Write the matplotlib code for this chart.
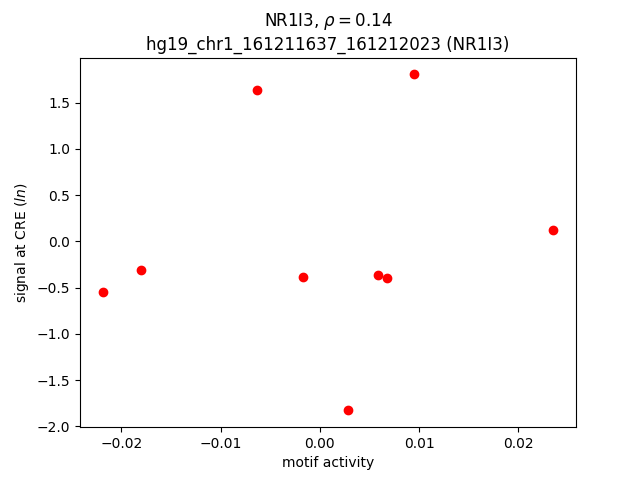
import matplotlib
matplotlib.use('Agg')
import matplotlib.pyplot as plt

# values
motif_activity = [-0.0219, -0.0180, -0.00636, -0.00172, 0.00283, 0.00586, 0.00677, 0.00949, 0.02354]
cre_signal = [-0.551, -0.314, 1.632, -0.389, -1.827, -0.368, -0.400, 1.805, 0.119]
gene = 'NR1I3'
rho = 0.14
region = 'hg19_chr1_161211637_161212023'

fig, ax = plt.subplots(figsize=(6.4, 4.8), dpi=100)
ax.plot(motif_activity, cre_signal, 'ro')
ax.set_xlabel('motif activity')
ax.set_ylabel(r'signal at CRE ($ln$)')
ax.set_title(gene + r', $\rho = $' + f'{rho:.2f}' + '\n' + f'{region} ({gene})')
fig.savefig('out.png')
